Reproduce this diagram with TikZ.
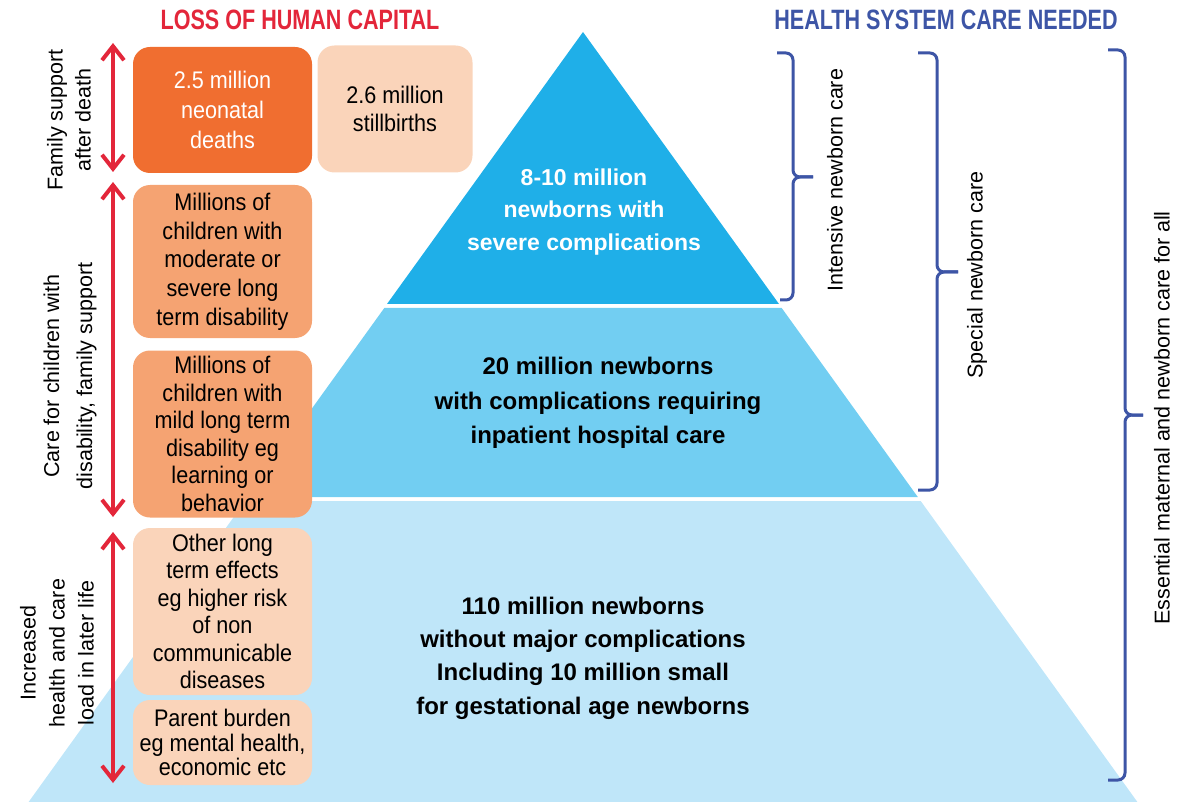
\documentclass[tikz,border=0pt]{standalone}
\usepackage{fontspec}
\setmainfont{Liberation Sans}
\newfontfamily\headfont{Liberation Sans}[FakeStretch=0.77]
\newfontfamily\boxfont{Liberation Sans}[FakeStretch=0.9]
\usetikzlibrary{arrows.meta}
\definecolor{lossred}{HTML}{E3263A}
\definecolor{careblue}{HTML}{3D55A6}
\definecolor{tierA}{HTML}{1FAFE8}
\definecolor{tierB}{HTML}{72CEF2}
\definecolor{tierC}{HTML}{BFE6F9}
\definecolor{darkorg}{HTML}{F06E30}
\definecolor{midorg}{HTML}{F5A372}
\definecolor{lightorg}{HTML}{FAD4BA}

\begin{document}
\begin{tikzpicture}[x=1pt,y=-1pt,
    box/.style={rounded corners=17pt, align=center, inner sep=0pt, minimum width=179pt, font=\boxfont\fontsize{24}{27.5}\selectfont},
    tier/.style={align=center, font=\bfseries\fontsize{24}{34.5}\selectfont},
    side/.style={rotate=90, align=center, font=\fontsize{21.5}{28}\selectfont},
    head/.style={font=\headfont\bfseries\fontsize{28}{30}\selectfont},
    redarrow/.style={draw=lossred, line width=4pt, {Straight Barb[length=14pt,width=22pt]}-{Straight Barb[length=14pt,width=22pt]}},
    brace/.style={draw=careblue, line width=3pt, rounded corners=7pt}]
  \useasboundingbox (0,0) rectangle (1186,802);
  % pyramid, bottom to top
  \fill[tierC] (245.3,501) -- (920.7,501) -- (1137.4,802) -- (28.6,802) -- cycle;
  \fill[tierB] (384.3,308) -- (781.7,308) -- (917.8,497) -- (248.2,497) -- cycle;
  \fill[tierA] (583,32) -- (779,304) -- (387,304) -- cycle;
  \node[tier, text=white, font=\bfseries\fontsize{23}{32.5}\selectfont] (severe) at (584,212) {8-10 million\\newborns with\\severe complications};
  \node[tier] (hospital) at (598,403) {20 million newborns\\with complications requiring\\inpatient hospital care};
  \node[tier, font=\bfseries\fontsize{24}{33.3}\selectfont] (healthy) at (583,658) {110 million newborns\\without major complications\\Including 10 million small\\for gestational age newborns};

  % loss of human capital
  \node[head, text=lossred] (loss) at (300,20) {LOSS OF HUMAN CAPITAL};
  \node[box, fill=darkorg, text=white, minimum height=126pt, font=\boxfont\fontsize{24}{30}\selectfont] (deaths) at (222.5,110) {2.5 million\\neonatal\\deaths};
  \node[box, fill=lightorg, minimum width=155pt, minimum height=127pt] (stillbirths) at (395,109) {2.6 million\\stillbirths};
  \node[box, fill=midorg, minimum height=153pt, font=\boxfont\fontsize{24}{28.7}\selectfont] (moderate) at (222.5,261.5) {Millions of\\children with\\moderate or\\severe long\\term disability};
  \node[box, fill=midorg, minimum height=167pt] (mild) at (222.5,434) {Millions of\\children with\\mild long term\\disability eg\\learning or\\behavior};
  \node[box, fill=lightorg, minimum height=167pt] (other) at (222.5,611.5) {Other long\\term effects\\eg higher risk\\of non\\communicable\\diseases};
  \node[box, fill=lightorg, minimum height=85pt, font=\boxfont\fontsize{24}{24.5}\selectfont] (parent) at (222.5,742.5) {Parent burden\\eg mental health,\\economic etc};

  \coordinate (fs top) at (113,43);
  \coordinate (fs bot) at (113,172);
  \coordinate (cc top) at (113,182);
  \coordinate (cc bot) at (113,517);
  \coordinate (hl top) at (113,532);
  \coordinate (hl bot) at (113,783);
  \draw[redarrow] (fs top) -- (fs bot);
  \draw[redarrow] (cc top) -- (cc bot);
  \draw[redarrow] (hl top) -- (hl bot);
  \node[side] (famsup) at (69,120) {Family support\\after death};
  \node[side, font=\fontsize{21.5}{33}\selectfont] (caresup) at (70,376) {Care for children with\\disability, family support};
  \node[side, font=\fontsize{21.5}{29}\selectfont] (laterlife) at (57,653) {Increased\\health and care\\load in later life};

  % health system care needed
  \node[head, text=careblue] (needed) at (946,20) {HEALTH SYSTEM CARE NEEDED};
  \draw[brace] (777,53) -| (793,177) -- (813,177);
  \draw[brace] (813,177) -| (793,300) -- (780,300);
  \draw[brace] (918,53) -| (937,272) -- (958,272);
  \draw[brace] (958,272) -| (937,490) -- (918,490);
  \draw[brace] (1108,50) -| (1125,415) -- (1143,415);
  \draw[brace] (1143,415) -| (1125,780) -- (1108,780);
  \node[side] (intensive) at (835,180) {Intensive newborn care};
  \node[side] (special) at (977,275) {Special newborn care};
  \node[side] (essential) at (1162,418) {Essential maternal and newborn care for all};
\end{tikzpicture}
\end{document}
